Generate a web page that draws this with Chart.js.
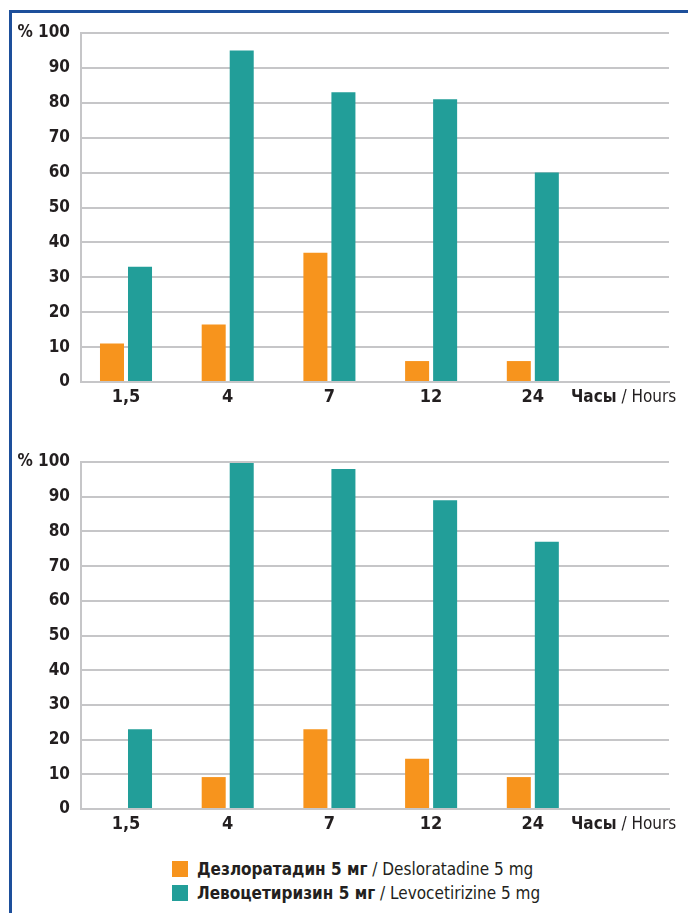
<!DOCTYPE html>
<html>
<head>
<meta charset="utf-8">
<script src="https://cdn.jsdelivr.net/npm/chart.js@4"></script>
<style>
  html, body { margin: 0; padding: 0; background: #fff; }
  body { width: 688px; height: 913px; position: relative; overflow: hidden;
         font-family: "Liberation Sans Narrow", "DejaVu Sans Condensed", "Liberation Sans", sans-serif; color: #231f20; }
  .frame { position: absolute; left: 9px; top: 10px; right: -10px; bottom: -10px;
           border-left: 3px solid #1d4f9b; border-top: 3px solid #1d4f9b; }
  .box { position: absolute; left: 0; width: 688px; }
  #box1 { top: 0; height: 420px; }
  #box2 { top: 429px; height: 418px; }
  .legend { position: absolute; left: 172px; top: 857px; font-size: 17px; line-height: 24px; }
  .legend div { display: flex; align-items: center; white-space: nowrap; }
  .legend span.sq { display: inline-block; width: 16px; height: 16px; margin-right: 9px; }
  .legend b { font-weight: bold; }
</style>
</head>
<body>
<div class="frame"></div>
<div class="box" id="box1"><canvas id="chart1"></canvas></div>
<div class="box" id="box2"><canvas id="chart2"></canvas></div>
<div class="legend">
  <div><span class="sq" style="background:#f7941d"></span><b>Дезлоратадин 5 мг</b>&nbsp;/ Desloratadine 5 mg</div>
  <div><span class="sq" style="background:#229e99"></span><b>Левоцетиризин 5 мг</b>&nbsp;/ Levocetirizine 5 mg</div>
</div>
<script>
// Часы / Hours
const categories = ["1,5", "4", "7", "12", "24"];

// верхний график
const desloTop = [11, 16.5, 37, 6, 6];
const levoTop = [33, 95, 83, 81, 60];

// нижний график
const desloBottom = [0, 9.2, 23, 14.5, 9.2];
const levoBottom = [23, 99.7, 98, 89, 77];

const yTicks = [0, 10, 20, 30, 40, 50, 60, 70, 80, 90, 100];

const ORANGE = "#f7941d";
const TEAL = "#229e99";
const FONT = "'Liberation Sans Narrow', 'DejaVu Sans Condensed', 'Liberation Sans', sans-serif";

// подпись "Часы / Hours" справа от меток оси
const hoursLabel = {
  id: "hoursLabel",
  afterDraw(chart) {
    const { ctx, chartArea } = chart;
    const y = chartArea.bottom + 16;
    let x = 571;
    ctx.save();
    ctx.fillStyle = "#231f20";
    ctx.textBaseline = "middle";
    ctx.textAlign = "left";
    ctx.font = "bold 17px " + FONT;
    ctx.fillText("Часы", x, y);
    x += ctx.measureText("Часы").width;
    ctx.font = "17px " + FONT;
    ctx.fillText(" / Hours", x, y);
    ctx.restore();
  }
};

function makeChart(id, deslo, levo) {
  const ctx = document.getElementById(id).getContext("2d");
  return new Chart(ctx, {
    type: "bar",
    data: {
      datasets: [
        {
          label: "Дезлоратадин 5 мг",
          data: deslo.map((v, i) => ({ x: i, y: v })),
          backgroundColor: ORANGE,
          categoryPercentage: 0.551,
          barPercentage: 0.857
        },
        {
          label: "Левоцетиризин 5 мг",
          data: levo.map((v, i) => ({ x: i, y: v })),
          backgroundColor: TEAL,
          categoryPercentage: 0.551,
          barPercentage: 0.857
        }
      ]
    },
    options: {
      responsive: true,
      maintainAspectRatio: false,
      animation: false,
      layout: { padding: { top: 33, right: 19, left: 0, bottom: 0 } },
      plugins: { legend: { display: false }, tooltip: { enabled: false } },
      scales: {
        x: {
          type: "linear",
          offset: false,
          min: -0.4425,
          max: 5.339,
          afterFit: (scale) => { scale.height = 38; },
          grid: { display: false, drawTicks: false },
          border: { display: true, color: "#c6c6c8", width: 2 },
          afterBuildTicks: (scale) => {
            scale.ticks = categories.map((c, i) => ({ value: i }));
          },
          ticks: {
            autoSkip: false,
            maxRotation: 0,
            padding: 5,
            color: "#231f20",
            font: { family: FONT, size: 18, weight: "bold" },
            callback: (v) => categories[v] ?? ""
          }
        },
        y: {
          min: 0,
          max: 100,
          afterFit: (scale) => { scale.width = 81; },
          afterBuildTicks: (scale) => {
            scale.ticks = yTicks.map(v => ({ value: v }));
          },
          grid: { color: "#c6c6c8", lineWidth: 2, drawTicks: false },
          border: { display: true, color: "#c6c6c8", width: 2 },
          ticks: {
            padding: 11,
            color: "#231f20",
            font: { family: FONT, size: 17, weight: "bold" },
            callback: (v) => v === 100 ? "% 100" : v
          }
        }
      }
    },
    plugins: [hoursLabel]
  });
}

makeChart("chart1", desloTop, levoTop);
makeChart("chart2", desloBottom, levoBottom);
</script>
</body>
</html>
